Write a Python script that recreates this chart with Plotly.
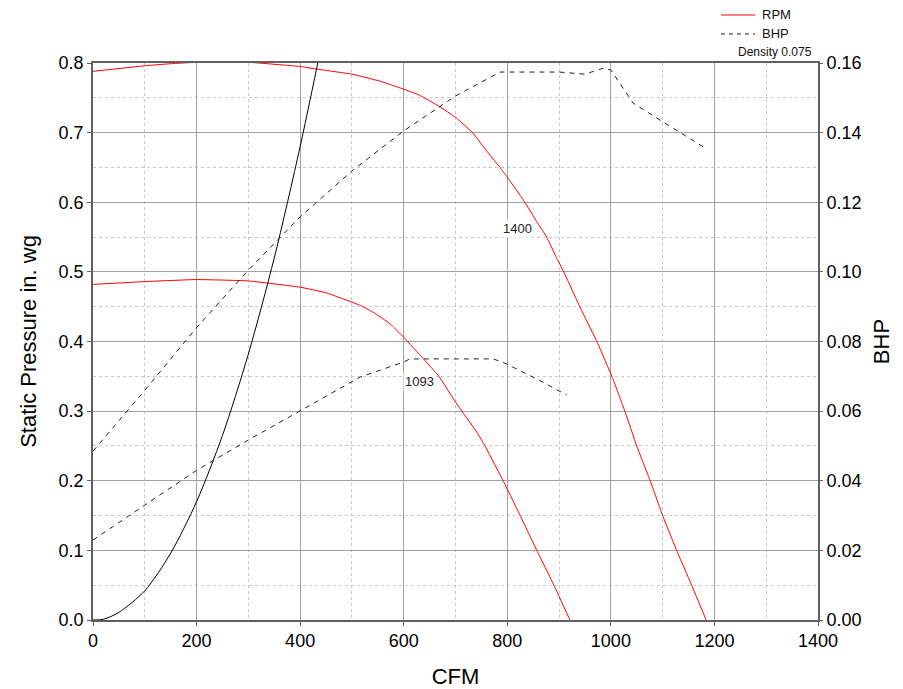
import plotly.graph_objects as go

# RPM 1400 curve (CFM, static pressure in. wg)
rpm1400_cfm = [0, 100, 150, 200, 300, 400, 434, 500, 554, 594, 630, 670, 700, 733, 763, 786, 800, 834, 857, 876, 894, 909, 940, 973, 1002, 1027, 1050, 1076, 1100, 1127, 1156, 1184]
rpm1400_sp = [0.788, 0.796, 0.799, 0.801, 0.801, 0.795, 0.791, 0.784, 0.774, 0.764, 0.754, 0.737, 0.722, 0.700, 0.671, 0.650, 0.636, 0.600, 0.572, 0.550, 0.522, 0.500, 0.450, 0.400, 0.350, 0.300, 0.250, 0.200, 0.150, 0.100, 0.050, 0.0]

# RPM 1093 curve
rpm1093_cfm = [0, 100, 200, 300, 400, 450, 516, 541, 573, 600, 637, 668, 700, 741, 757, 792, 825, 857, 890, 921]
rpm1093_sp = [0.482, 0.486, 0.489, 0.487, 0.478, 0.470, 0.452, 0.442, 0.426, 0.406, 0.376, 0.350, 0.313, 0.270, 0.250, 0.200, 0.150, 0.100, 0.050, 0.0]

# BHP at 1400 RPM
bhp1400_cfm = [0, 100, 200, 300, 400, 500, 600, 700, 786, 900, 950, 985, 1000, 1043, 1095, 1133, 1182]
bhp1400 = [0.0485, 0.066, 0.084, 0.1005, 0.1158, 0.129, 0.1405, 0.1505, 0.1574, 0.1574, 0.1568, 0.1585, 0.158, 0.1485, 0.1436, 0.140, 0.1356]

# BHP at 1093 RPM
bhp1093_cfm = [0, 100, 200, 300, 400, 516, 600, 612, 700, 773, 795, 860, 915]
bhp1093 = [0.023, 0.033, 0.043, 0.0517, 0.060, 0.0698, 0.0741, 0.075, 0.075, 0.075, 0.0738, 0.069, 0.0646]

# System curve
sys_cfm = [0, 20, 50, 100, 150, 200, 250, 300, 350, 400, 434]
sys_sp = [0.0, 0.001, 0.011, 0.042, 0.096, 0.170, 0.265, 0.382, 0.520, 0.680, 0.800]

curve_labels = ["1400", "1093"]
label_cfm = [820, 631]
label_sp = [0.563, 0.342]

legend_labels = ["RPM", "BHP"]
density_text = "Density 0.075"

x_ticks = [0, 200, 400, 600, 800, 1000, 1200, 1400]
y_ticks = [0.0, 0.1, 0.2, 0.3, 0.4, 0.5, 0.6, 0.7, 0.8]
y2_ticks = [0.00, 0.02, 0.04, 0.06, 0.08, 0.10, 0.12, 0.14, 0.16]

FONT = "Liberation Sans, Arial, sans-serif"
RED = "#ff0000"
DASHCOL = "#222222"

fig = go.Figure()

fig.add_trace(go.Scatter(x=rpm1400_cfm, y=rpm1400_sp, mode="lines", name="RPM 1400",
                         line=dict(color=RED, width=1, shape="spline", smoothing=0.3), showlegend=False))
fig.add_trace(go.Scatter(x=rpm1093_cfm, y=rpm1093_sp, mode="lines", name="RPM 1093",
                         line=dict(color=RED, width=1, shape="spline", smoothing=0.3), showlegend=False))
fig.add_trace(go.Scatter(x=bhp1400_cfm, y=bhp1400, mode="lines", name="BHP 1400", yaxis="y2",
                         line=dict(color=DASHCOL, width=1, dash="5px,5px"), showlegend=False))
fig.add_trace(go.Scatter(x=bhp1093_cfm, y=bhp1093, mode="lines", name="BHP 1093", yaxis="y2",
                         line=dict(color=DASHCOL, width=1, dash="5px,5px"), showlegend=False))
fig.add_trace(go.Scatter(x=sys_cfm, y=sys_sp, mode="lines", name="System",
                         line=dict(color="#000000", width=1, shape="spline", smoothing=0.8), showlegend=False))

for t, cx, cy in zip(curve_labels, label_cfm, label_sp):
    fig.add_annotation(x=cx, y=cy, text=t, showarrow=False, xref="x", yref="y",
                       font=dict(family=FONT, size=13, color="#222222"),
                       bgcolor="white")

# manual legend (paper coordinates)
leg_y = [1.0862, 1.0521]
leg_dash = ["solid", "4px,4px"]
leg_col = [RED, DASHCOL]
for lbl, ly, ld, lc in zip(legend_labels, leg_y, leg_dash, leg_col):
    fig.add_shape(type="line", xref="paper", yref="paper", x0=0.8662, x1=0.9131, y0=ly, y1=ly,
                  line=dict(color=lc, width=1.2, dash=ld))
    fig.add_annotation(xref="paper", yref="paper", x=0.920, y=ly, xanchor="left", yanchor="middle",
                       text=lbl, showarrow=False, font=dict(family=FONT, size=13, color="#111111"))
fig.add_annotation(xref="paper", yref="paper", x=0.9945, y=1.0198, xanchor="right", yanchor="middle",
                   text=density_text, showarrow=False,
                   font=dict(family=FONT, size=12, color="#111111"))

axis_common = dict(showline=True, linecolor="#606060", linewidth=1.5, mirror=True,
                   ticks="outside", ticklen=4, tickcolor="#606060",
                   tickfont=dict(family=FONT, size=18, color="#000000"),
                   zeroline=False)

fig.update_layout(
    width=895, height=681,
    margin=dict(l=85, r=85, t=55, b=69, autoexpand=False),
    paper_bgcolor="white", plot_bgcolor="white",
    font=dict(family=FONT),
    showlegend=False,
    xaxis=dict(range=[0, 1400], tickvals=x_ticks, showgrid=True, gridcolor="#a0a0a0", gridwidth=1,
               minor=dict(dtick=100, showgrid=True, gridcolor="#c8c8c8", griddash="dot"),
               title=dict(text="CFM", font=dict(family=FONT, size=22, color="#000000"), standoff=29),
               **axis_common),
    yaxis=dict(range=[0, 0.8], tickvals=y_ticks, tickformat=".1f", showgrid=True, gridcolor="#a0a0a0", gridwidth=1,
               minor=dict(dtick=0.05, showgrid=True, gridcolor="#c8c8c8", griddash="dot"),
               title=dict(text="Static Pressure in. wg", font=dict(family=FONT, size=22, color="#000000"), standoff=16),
               **axis_common),
    yaxis2=dict(range=[0, 0.16], tickvals=y2_ticks, tickformat=".2f", overlaying="y", side="right",
                showgrid=False, showline=False, ticks="outside", ticklen=4, tickcolor="#606060",
                tickfont=dict(family=FONT, size=18, color="#000000"), zeroline=False,
                title=dict(text="BHP", font=dict(family=FONT, size=22, color="#000000"), standoff=12)),
)

fig.write_html("out.html")
